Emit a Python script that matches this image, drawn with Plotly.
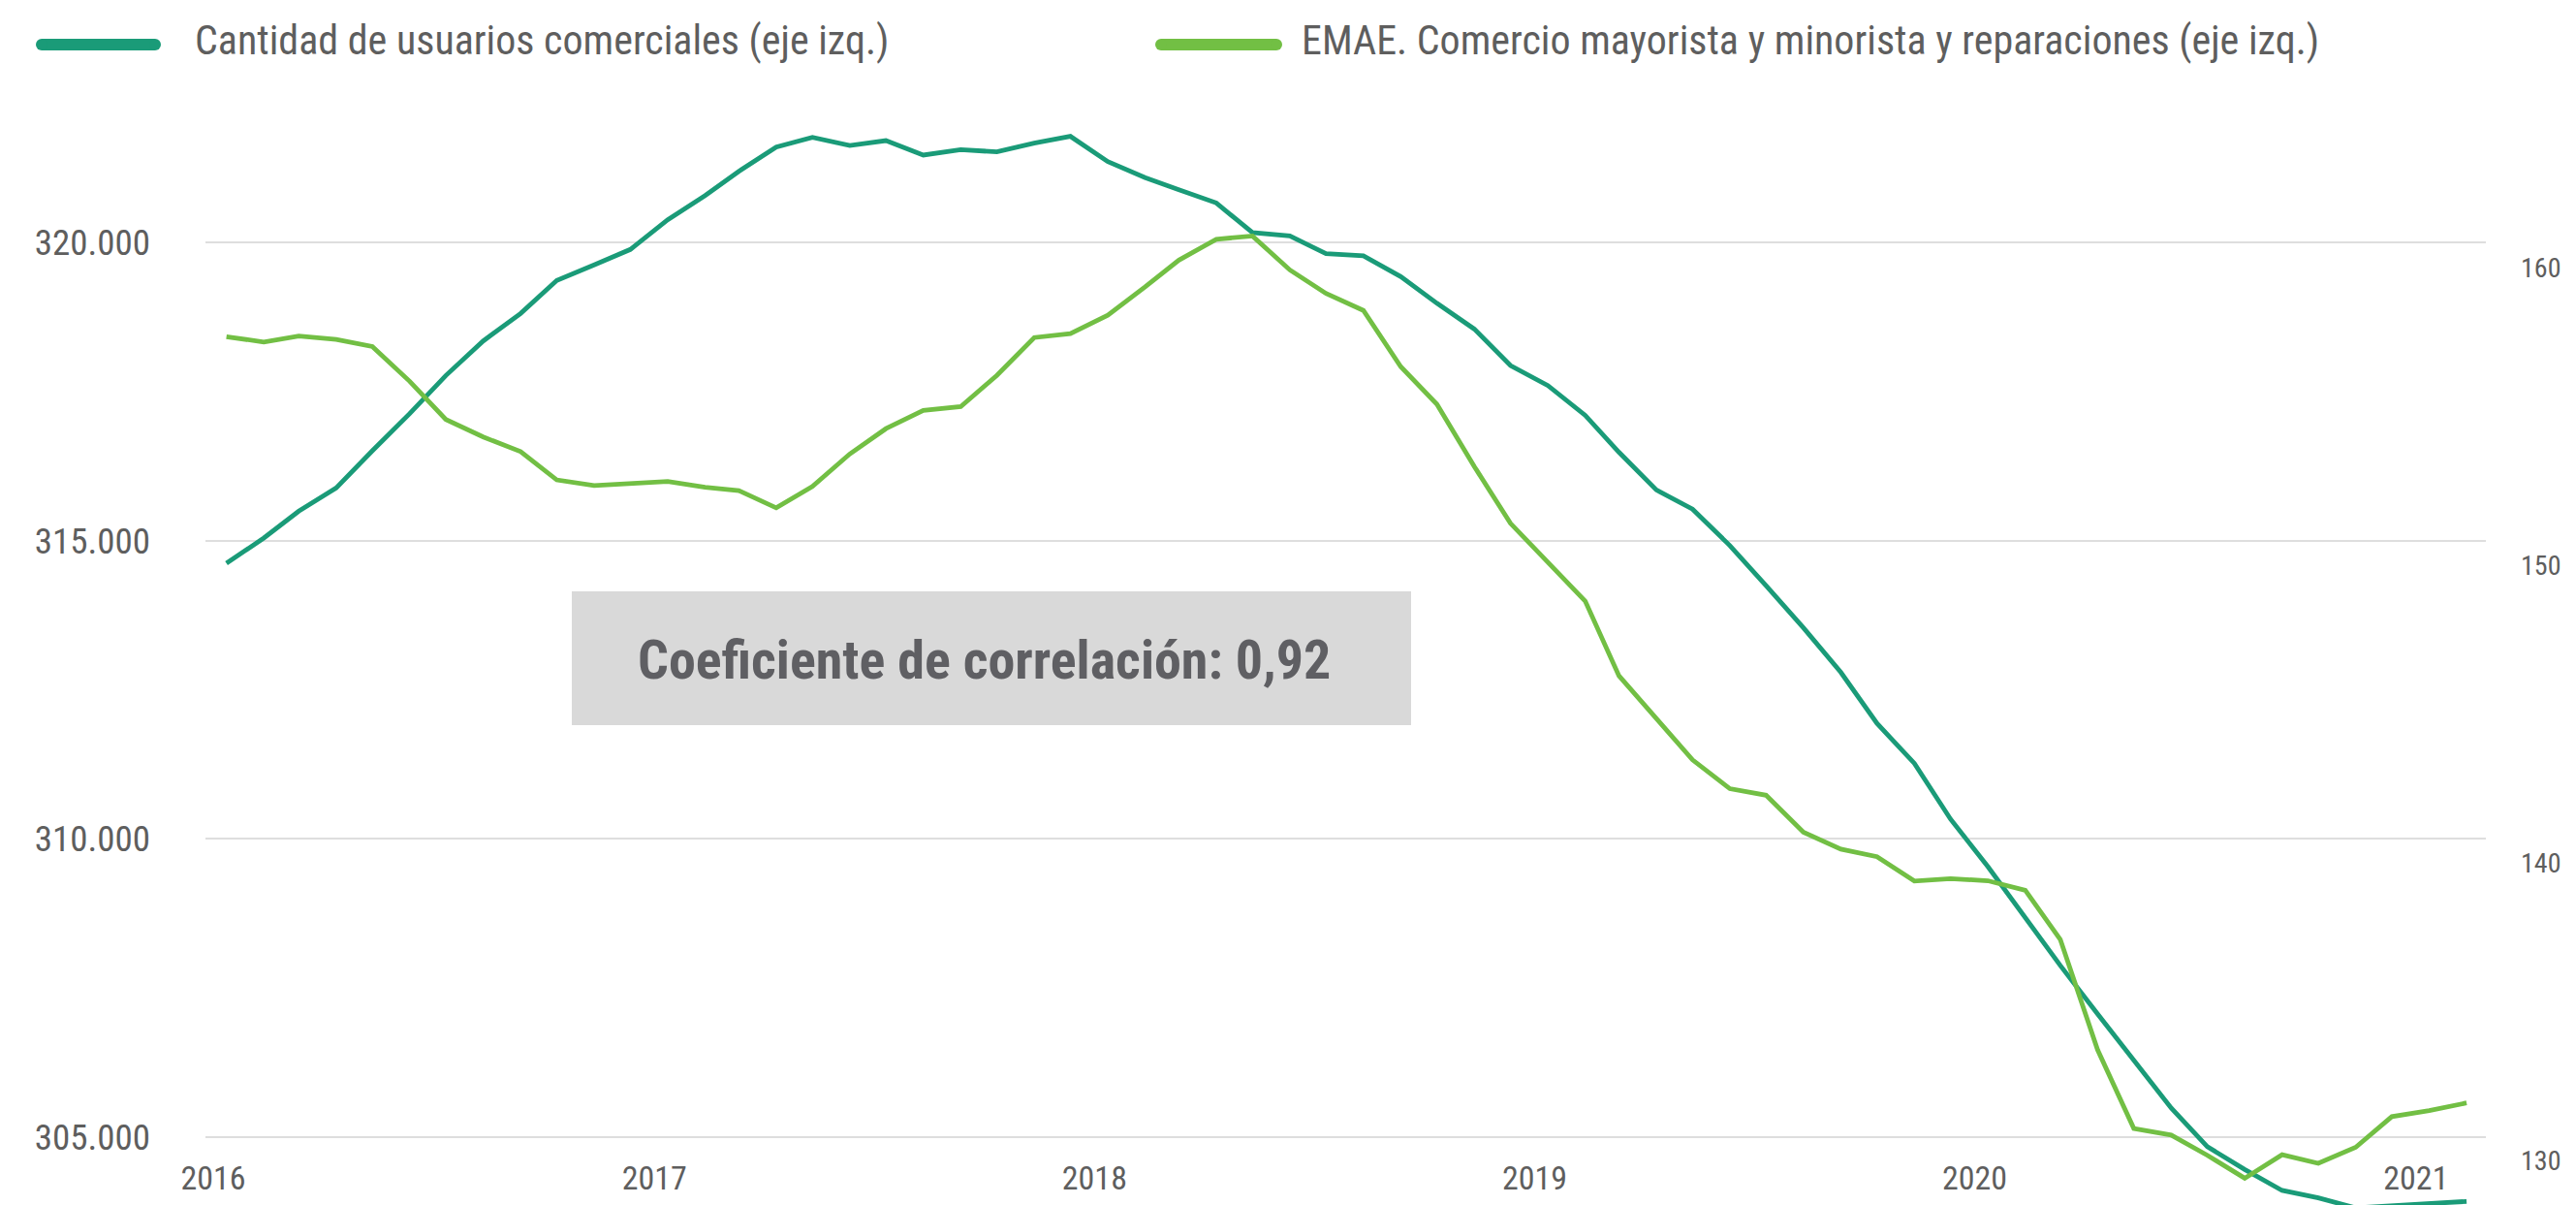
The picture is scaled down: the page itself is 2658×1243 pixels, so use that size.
import pandas as pd
import plotly.graph_objects as go

# ---------------- data ----------------
months = pd.date_range("2016-01-01", "2021-02-01", freq="MS")

usuarios = [
    314620, 315043, 315493, 315883, 316506, 317129, 317768, 318347, 318808, 319361, 319621, 319881,
    320379, 320785, 321191, 321598, 321760, 321625, 321706, 321463, 321555, 321517, 321663, 321777,
    321354, 321084, 320883, 320661, 320163, 320108, 319810, 319775, 319426, 318979, 318547, 317936,
    317600, 317100, 316481, 315849, 315527, 314916, 314246, 313538, 312792, 311935, 311265, 310331,
    309534, 308664, 307878, 307063, 306275, 305489, 304839, 304458, 304106, 303981, 303813, 303845,
    303886, 303922,
]

emae = [
    157.68, 157.50, 157.70, 157.59, 157.35, 156.18, 154.90, 154.31, 153.82, 152.87, 152.68, 152.76,
    152.82, 152.62, 152.51, 151.93, 152.65, 153.74, 154.59, 155.20, 155.33, 156.38, 157.65, 157.78,
    158.40, 159.35, 160.25, 160.95, 161.06, 159.92, 159.13, 158.56, 156.67, 155.41, 153.32, 151.41,
    150.11, 148.80, 146.29, 144.87, 143.47, 142.50, 142.28, 141.04, 140.47, 140.22, 139.40, 139.48,
    139.41, 139.09, 137.44, 133.73, 131.09, 130.87, 130.19, 129.42, 130.21, 129.92, 130.46, 131.49,
    131.69, 131.95,
]

series_names = [
    "Cantidad de usuarios comerciales (eje izq.)",
    "EMAE. Comercio mayorista y minorista y reparaciones (eje izq.)",
]
years = [2016, 2017, 2018, 2019, 2020, 2021]
left_ticks = [305000, 310000, 315000, 320000]
left_tick_text = ["305.000", "310.000", "315.000", "320.000"]
right_ticks = [130, 140, 150, 160]
corr_text = "Coeficiente de correlación: 0,92"

# ---------------- style ----------------
W, H = 2658, 1243
ML, MR, MT, MB = 212, 93, 100, 0
TEAL = "#1a9b78"
GREEN = "#72bf44"
TXT = "#5e5e5e"
GRID = "#dedede"
COND = "Roboto Condensed, Liberation Sans Narrow, DejaVu Sans Condensed, Roboto, sans-serif"

pw = W - ML - MR
ph = H - MT - MB


def px(x):
    return (x - ML) / pw


def py(y):
    return (H - MB - y) / ph


fig = go.Figure()
fig.add_trace(go.Scatter(x=months, y=usuarios, mode="lines", name=series_names[0],
                         line=dict(color=TEAL, width=4.8), yaxis="y"))
fig.add_trace(go.Scatter(x=months, y=emae, mode="lines", name=series_names[1],
                         line=dict(color=GREEN, width=4.8), yaxis="y2"))

x0 = months[0] - pd.Timedelta(days=17.4)
x1 = months[-1] + pd.Timedelta(days=16.0)
tickvals = [pd.Timestamp(f"{y}-01-01") - pd.Timedelta(days=11) for y in years]

fig.update_layout(
    width=W, height=H,
    margin=dict(l=ML, r=MR, t=MT, b=MB),
    plot_bgcolor="white", paper_bgcolor="white",
    showlegend=False,
    font=dict(family=COND, color=TXT),
    xaxis=dict(range=[x0, x1], tickvals=tickvals, ticktext=[str(y) for y in years],
               showgrid=False, zeroline=False, showline=False, ticks="",
               anchor="free", position=py(1192),
               tickfont=dict(size=34, family=COND, color=TXT)),
    yaxis=dict(range=[303861.8, 322437.8], tickvals=left_ticks, ticktext=left_tick_text,
               showgrid=True, gridcolor=GRID, gridwidth=2, zeroline=False, showline=False,
               ticks="", ticklabelstandoff=56,
               tickfont=dict(size=37, family=COND, color=TXT)),
    yaxis2=dict(range=[128.522, 165.729], tickvals=right_ticks, overlaying="y", side="right",
                showgrid=False, zeroline=False, showline=False, ticks="", ticklabelstandoff=35,
                tickfont=dict(size=28, family=COND, color=TXT)),
)

# correlation box
fig.add_shape(type="rect", xref="paper", yref="paper",
              x0=px(590), x1=px(1456), y0=py(748), y1=py(610),
              fillcolor="#d9d9d9", line=dict(width=0), layer="above")
fig.add_annotation(xref="paper", yref="paper", x=px(1016), y=py(681), text=f"<b>{corr_text}</b>",
                   showarrow=False, xanchor="center", yanchor="middle",
                   font=dict(size=56, family=COND, color="#5f5f63"))

# custom legend
legend_items = [(37, 166, 199, TEAL, series_names[0]), (1192, 1323, 1341, GREEN, series_names[1])]
for xs, xe, xt, col, name in legend_items:
    yc = 46
    r = 6
    fig.add_shape(type="line", xref="paper", yref="paper", x0=px(xs + r), x1=px(xe - r),
                  y0=py(yc), y1=py(yc), line=dict(color=col, width=12))
    for cx in (xs + r, xe - r):
        fig.add_shape(type="circle", xref="paper", yref="paper", x0=px(cx - r), x1=px(cx + r),
                      y0=py(yc + r), y1=py(yc - r), fillcolor=col, line=dict(width=0))
    fig.add_annotation(xref="paper", yref="paper", x=px(xt), y=py(42), text=name, showarrow=False,
                       xanchor="left", yanchor="middle", font=dict(size=42, family=COND, color=TXT))

fig.write_html("out.html", config={"displayModeBar": False},
               post_script="document.body.style.margin='0';")
